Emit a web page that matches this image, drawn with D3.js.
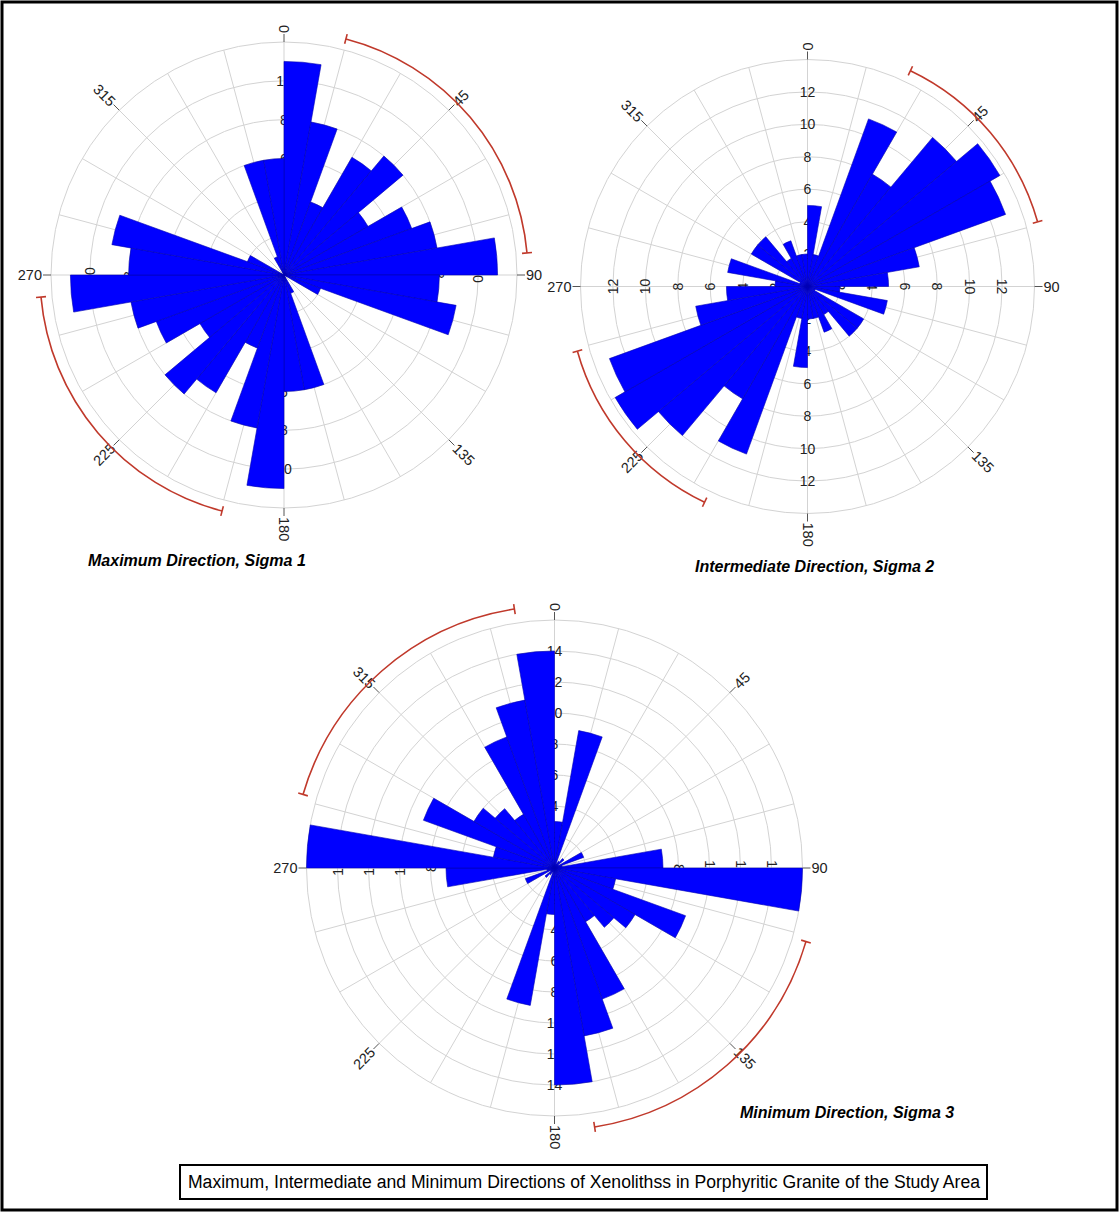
<!DOCTYPE html>
<html>
<head>
<meta charset="utf-8">
<script src="https://cdn.jsdelivr.net/npm/d3@7"></script>
<style>
  html, body { margin: 0; padding: 0; background: #fff; }
  svg { display: block; font-family: "Liberation Sans", Arial, sans-serif; }
</style>
</head>
<body>
<svg id="chart" width="1119" height="1212"></svg>
<script>
// ---- DATA ----
// bin start azimuths (degrees clockwise from north), 10-degree bins
const binStart = [0,10,20,30,40,50,60,70,80,90,100,110,120,130,140,150,160,170,
                  180,190,200,210,220,230,240,250,260,270,280,290,300,310,320,330,340,350];
const binWidth = 10;

// frequencies
const sigma1 = [11,8,4,7,8,5,7,8,11,8,9,2,0,0,0,1,6,6,
                11,8,4,7,8,5,7,8,11,8,9,2,0,0,0,1,6,6];
const sigma2 = [5,2,11,8,12,13.7,13,7,5,2,5,0.5,4,4,2,3,2,2,
                5,2,11,8,12,13.7,13,7,5,2,5,0.5,4,4,2,3,2,2];
const sigma3 = [3,9,0.3,0.5,0.8,0.3,2,0.5,7,16,4,9,6,5,4,9,11,14,
                3,9,0.3,0.5,0.8,0.3,2,0.5,7,16,4,9,6,5,4,9,11,14];

// radial axis maxima and ring steps
const radialMax = [12, 14, 16];
const ringStep = 2;

// outer angle tick labels
const angleTicks = [0, 45, 90, 135, 180, 225, 270, 315];

// red confidence arcs (start, end azimuth in degrees)
const arcs1 = [[14.7, 84.8], [194.7, 264.8]];
const arcs2 = [[25.5, 74.3], [205.5, 254.3]];
const arcs3 = [[106.3, 171.2], [286.3, 351.2]];

const titles = ["Maximum Direction, Sigma 1", "Intermediate Direction, Sigma 2", "Minimum Direction, Sigma 3"];
const caption = "Maximum, Intermediate and Minimum Directions of Xenolithss in Porphyritic Granite of the Study Area";

// ---- LAYOUT ----
const charts = [
  { values: sigma1, max: radialMax[0], cx: 284, cy: 275, R: 233, arcs: arcs1, arcR: 244,
    title: titles[0], tx: 88, ty: 566, anchor: "start" },
  { values: sigma2, max: radialMax[1], cx: 807.5, cy: 286.5, R: 227, arcs: arcs2, arcR: 239,
    title: titles[1], tx: 695, ty: 572, anchor: "start" },
  { values: sigma3, max: radialMax[2], cx: 554.5, cy: 868, R: 248, arcs: arcs3, arcR: 262,
    title: titles[2], tx: 740, ty: 1118, anchor: "start" }
];

const svg = d3.select("#chart");
const rad = d => d * Math.PI / 180;
const gridColor = "#d3d3d3";

// outer frame
svg.append("rect").attr("x", 2).attr("y", 2).attr("width", 1115).attr("height", 1208)
  .attr("fill", "none").attr("stroke", "#000").attr("stroke-width", 3);

charts.forEach(c => {
  const g = svg.append("g").attr("transform", `translate(${c.cx},${c.cy})`);
  const r = d3.scaleLinear().domain([0, c.max]).range([0, c.R]);
  const rings = d3.range(ringStep, c.max + 0.001, ringStep);

  // rings
  g.selectAll("circle.ring").data(rings).join("circle")
    .attr("class", "ring").attr("r", d => r(d))
    .attr("fill", "none").attr("stroke", gridColor).attr("stroke-width", 1);

  // spokes every 15 degrees
  const spokes = d3.range(0, 360, 15);
  g.selectAll("line.spoke").data(spokes).join("line")
    .attr("class", "spoke")
    .attr("x1", 0).attr("y1", 0)
    .attr("x2", d => c.R * Math.sin(rad(d)))
    .attr("y2", d => -c.R * Math.cos(rad(d)))
    .attr("stroke", gridColor).attr("stroke-width", 1);

  // ring labels along the four main axes (drawn beneath the bars)
  const labelRings = rings.filter(d => d < c.max);
  const axesDef = [
    { a: 0,   tf: d => `translate(0,${-r(d)})` },
    { a: 180, tf: d => `translate(0,${r(d)})` },
    { a: 90,  tf: d => `translate(${r(d)},0) rotate(90)` },
    { a: 270, tf: d => `translate(${-r(d)},0) rotate(-90)` }
  ];
  axesDef.forEach(ax => {
    g.append("g").selectAll("text").data(labelRings).join("text")
      .attr("transform", ax.tf)
      .attr("text-anchor", "middle").attr("dominant-baseline", "central")
      .attr("font-size", 14).attr("fill", "#222")
      .text(d => d);
  });

  // bars
  const arcGen = d3.arc().innerRadius(0);
  g.append("g").selectAll("path").data(binStart.map((b, i) => ({ b, v: c.values[i] })))
    .join("path")
    .attr("d", d => arcGen({ outerRadius: r(d.v), startAngle: rad(d.b), endAngle: rad(d.b + binWidth) }))
    .attr("fill", "#0000ff").attr("stroke", "#0000b0").attr("stroke-width", 0.6)
    .attr("stroke-linejoin", "miter");

  // angle ticks and labels
  const tg = g.append("g");
  angleTicks.forEach(a => {
    tg.append("line")
      .attr("x1", c.R * Math.sin(rad(a))).attr("y1", -c.R * Math.cos(rad(a)))
      .attr("x2", (c.R + 8) * Math.sin(rad(a))).attr("y2", -(c.R + 8) * Math.cos(rad(a)))
      .attr("stroke", "#555").attr("stroke-width", 1);
    const flip = a > 180 && a < 360;
    tg.append("text")
      .attr("transform", `rotate(${a - 90}) translate(${c.R + 9},0)` + (flip ? " rotate(180)" : ""))
      .attr("text-anchor", flip ? "end" : "start")
      .attr("dominant-baseline", "central")
      .attr("font-size", 14.5).attr("fill", "#222")
      .text(a);
  });

  // red arcs with end caps
  c.arcs.forEach(([a0, a1]) => {
    const p = d3.path();
    p.arc(0, 0, c.arcR, rad(a0 - 90), rad(a1 - 90), false);
    g.append("path").attr("d", p.toString())
      .attr("fill", "none").attr("stroke", "#c0392b").attr("stroke-width", 1.6);
    [a0, a1].forEach(a => {
      g.append("line")
        .attr("x1", (c.arcR - 5) * Math.sin(rad(a))).attr("y1", -(c.arcR - 5) * Math.cos(rad(a)))
        .attr("x2", (c.arcR + 5) * Math.sin(rad(a))).attr("y2", -(c.arcR + 5) * Math.cos(rad(a)))
        .attr("stroke", "#c0392b").attr("stroke-width", 1.6);
    });
  });

  // title
  svg.append("text").attr("x", c.tx).attr("y", c.ty)
    .attr("text-anchor", c.anchor)
    .attr("font-size", 16).attr("font-weight", "bold").attr("font-style", "italic")
    .attr("fill", "#000")
    .text(c.title);
});

// caption box
svg.append("rect").attr("x", 180).attr("y", 1165).attr("width", 807).attr("height", 34)
  .attr("fill", "#fff").attr("stroke", "#000").attr("stroke-width", 2);
svg.append("text").attr("x", 584).attr("y", 1182)
  .attr("text-anchor", "middle").attr("dominant-baseline", "central")
  .attr("font-size", 17.6).attr("fill", "#000")
  .text(caption);
</script>
</body>
</html>
